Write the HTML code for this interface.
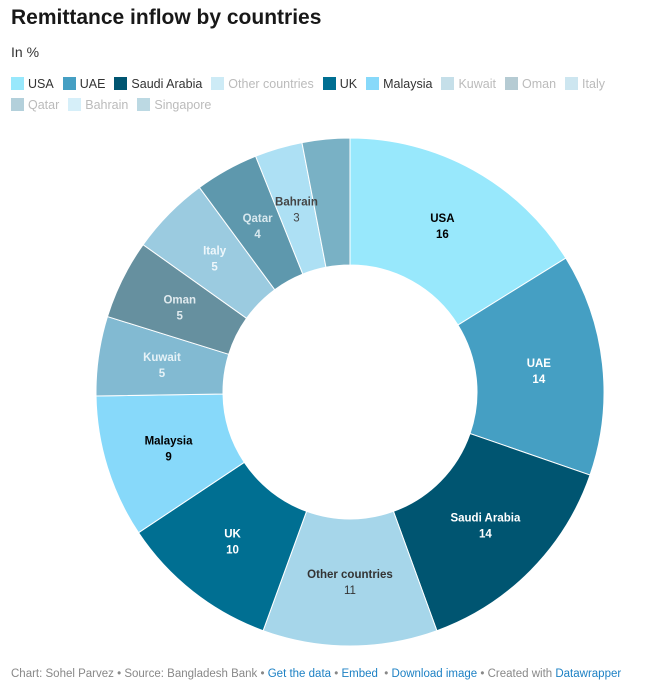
<!DOCTYPE html><html><head><meta charset="utf-8"><style>
body{margin:0;width:659px;height:688px;background:#fff;font-family:"Liberation Sans",sans-serif;position:relative;overflow:hidden}
h1{position:absolute;left:11px;top:6px;margin:0;font-size:21px;font-weight:bold;color:#181818}
.sub{position:absolute;left:11px;top:44px;font-size:14px;color:#333}
.leg{position:absolute;left:11px;font-size:12.5px;color:#333;white-space:nowrap}
.leg span{display:inline-block;margin-right:9px}
.leg i{display:inline-block;width:13px;height:13px;vertical-align:-2px;margin-right:4px}
.g{color:#bbb}
.foot{position:absolute;left:11px;top:668px;font-size:11.5px;color:#888}
.foot a{color:#1d81c4;text-decoration:none}
</style></head><body>
<h1>Remittance inflow by countries</h1>
<div class="sub">In %</div>
<div class="leg" style="top:77px">
<span><i style="background:#98e8fc"></i>USA</span><span><i style="background:#459fc3"></i>UAE</span><span><i style="background:#005571"></i>Saudi Arabia</span><span class="g"><i style="background:#cdebf6"></i>Other countries</span><span><i style="background:#006f92"></i>UK</span><span><i style="background:#87d9fa"></i>Malaysia</span><span class="g"><i style="background:#c5dfe9"></i>Kuwait</span><span class="g"><i style="background:#b5cbd3"></i>Oman</span><span class="g"><i style="background:#cde6f0"></i>Italy</span></div>
<div class="leg" style="top:98px">
<span class="g"><i style="background:#b3d0db"></i>Qatar</span><span class="g"><i style="background:#d6eff9"></i>Bahrain</span><span class="g"><i style="background:#bcd9e3"></i>Singapore</span></div>
<svg id="s" width="659" height="688" style="position:absolute;left:0;top:0"></svg>
<div class="foot">Chart: Sohel Parvez • Source: Bangladesh Bank • <a>Get the data</a> • <a>Embed</a> &nbsp;• <a>Download image</a> • Created with <a>Datawrapper</a></div>
<script>
var d=[["USA",16,"#98e8fc","#000",1],["UAE",14,"#459fc3","#fff",1],["Saudi Arabia",14,"#005571","#fff",1],["Other countries",11,"#a6d6ea","#333",0],["UK",10,"#006f92","#fff",1],["Malaysia",9,"#87d9fa","#000",1],["Kuwait",5,"#82bad2","#e6f2f7",1],["Oman",5,"#66909f","#e0eaee",1],["Italy",5,"#9bcbe0","#eef7fb",1],["Qatar",4,"#5e98ad","#d8e8ee",1],["Bahrain",3,"#ade0f4","#444",0],["Singapore",3,"#79b1c5","#fff",0]];
var cx=350,cy=392,R=254,r=127,tot=99,a=0,h="",t="";
function p(rad,ang){return [cx+rad*Math.sin(ang),cy-rad*Math.cos(ang)]}
d.forEach(function(x){var a0=a,a1=a+x[1]/tot*2*Math.PI;a=a1;var L=(a1-a0)>Math.PI?1:0;
var o0=p(R,a0),o1=p(R,a1),i1=p(r,a1),i0=p(r,a0);
h+='<path d="M'+o0+'A'+R+','+R+' 0 '+L+' 1 '+o1+'L'+i1+'A'+r+','+r+' 0 '+L+' 0 '+i0+'Z" fill="'+x[2]+'" stroke="#fff" stroke-width="1"/>';
if(x[0]!="Singapore"){var m=p(190,(a0+a1)/2);
t+='<text x="'+m[0]+'" y="'+(m[1]-4)+'" text-anchor="middle" font-size="11.5" font-weight="bold" fill="'+x[3]+'">'+x[0]+'</text><text x="'+m[0]+'" y="'+(m[1]+12)+'" text-anchor="middle" font-size="11.5" font-weight="'+(x[4]?'bold':'normal')+'" fill="'+x[3]+'">'+x[1]+'</text>';}
});
document.getElementById("s").innerHTML=h+t;
</script>
</body></html>
